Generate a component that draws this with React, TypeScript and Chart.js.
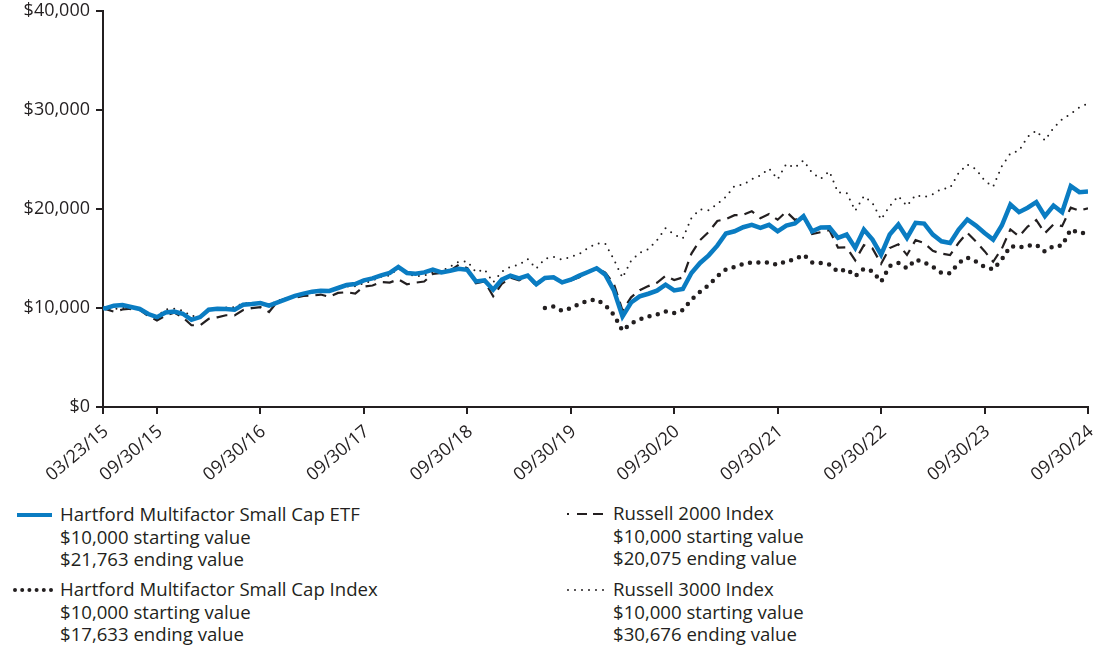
import React, { useEffect, useRef } from 'react';
import { Chart, registerables } from 'chart.js';

Chart.register(...registerables);

const FONT = "'Open Sans', 'Noto Sans', sans-serif";
const INK = '#231f20';
const BLUE = '#0a7cc2';

// x positions: months after 03/31/15 (start point 03/23/15 sits slightly before)
const START_X = -0.26;
const xTickValues = [START_X, 6, 18, 30, 42, 54, 66, 78, 90, 102, 114];
const xTickLabels = ['03/23/15', '09/30/15', '09/30/16', '09/30/17', '09/30/18', '09/30/19', '09/30/20', '09/30/21', '09/30/22', '09/30/23', '09/30/24'];
const yTickValues = [0, 10000, 20000, 30000, 40000];

// Hartford Multifactor Small Cap ETF (start, then month ends 03/15 .. 09/24)
const etfValues = [
  10000,
  9950, 10230, 10300, 10100, 9900, 9390, 9080, 9550, 9650, 9420, 8810, 9080,
  9820, 9920, 9900, 9820, 10330, 10400, 10500, 10230, 10560, 10900, 11220, 11450,
  11650, 11750, 11720, 12020, 12320, 12420, 12790, 12990, 13300, 13540, 14150, 13540,
  13470, 13600, 13870, 13600, 13770, 13970, 13850, 12690, 12790, 11850, 12860, 13270,
  12990, 13270, 12390, 13030, 13100, 12590, 12860, 13270, 13640, 14010, 13370, 11780,
  9150, 10560, 11170, 11440, 11750, 12350, 11780, 11920, 13540, 14550, 15320, 16300,
  17520, 17750, 18160, 18400, 18090, 18400, 17750, 18330, 18530, 19270, 17750, 18130,
  18160, 17080, 17420, 16070, 17920, 16910, 15390, 17420, 18430, 17080, 18600, 18530,
  17420, 16740, 16570, 17920, 18940, 18330, 17580, 16910, 18330, 20450, 19680, 20130,
  20690, 19270, 20350, 19680, 22310, 21700, 21763,
];

// Russell 2000 Index
const r2000Values = [
  10000,
  9890, 9630, 9850, 9930, 9810, 9190, 8740, 9230, 9530, 9060, 8260, 8250,
  8910, 9060, 9270, 9260, 9800, 9980, 10090, 9600, 10680, 10980, 11020, 11230,
  11240, 11360, 11130, 11520, 11600, 11450, 12160, 12270, 12620, 12570, 12900, 12400,
  12560, 12670, 13450, 13540, 13770, 14360, 14020, 12490, 12690, 11180, 12430, 13080,
  12800, 13240, 12210, 13070, 13150, 12510, 12770, 13100, 13640, 14030, 13580, 12440,
  9740, 11080, 11800, 12210, 12550, 13250, 12820, 13090, 15500, 16850, 17690, 18790,
  18980, 19380, 19410, 19780, 19070, 19490, 18920, 19730, 18900, 19320, 17470, 17660,
  17870, 16100, 16130, 14810, 16350, 16010, 14470, 16060, 16430, 15360, 16850, 16560,
  15770, 15490, 15350, 16590, 17600, 16720, 15740, 14670, 15990, 17940, 17240, 18220,
  18880, 17560, 18440, 18270, 20140, 19830, 20075,
];

// Russell 3000 Index
const r3000Values = [
  10000,
  9840, 9880, 10020, 9850, 10020, 9420, 9150, 9870, 9930, 9720, 9180, 9180,
  9820, 9880, 10060, 10080, 10480, 10510, 10530, 10300, 10760, 10970, 11180, 11590,
  11600, 11730, 11850, 11950, 12180, 12200, 12500, 12770, 13160, 13290, 13990, 13480,
  13210, 13260, 13630, 13730, 14180, 14680, 14710, 13620, 13890, 12600, 13680, 14160,
  14370, 14950, 13980, 14960, 15180, 14880, 15150, 15470, 16050, 16520, 16500, 14900,
  13060, 14780, 15580, 15940, 16850, 18060, 17410, 17030, 19100, 19960, 19880, 20500,
  21240, 22340, 22450, 23010, 23400, 24080, 23000, 24560, 24190, 24900, 23660, 23060,
  23800, 21660, 21640, 19820, 21300, 20600, 18940, 20300, 21300, 20310, 21400, 21210,
  21500, 22020, 22130, 23640, 24490, 24020, 22870, 22250, 24320, 25610, 25890, 27290,
  27900, 26920, 28190, 29060, 29610, 30260, 30676,
];

// Hartford Multifactor Small Cap Index (month ends 06/19 .. 09/24)
const HMSI_FIRST_MONTH = 51;
const hmsiValues = [
  10000, 10160, 9720, 9990, 10430, 10750, 10850, 10300, 9300,
  7700, 8450, 8850, 9150, 9350, 9650, 9500, 9800, 10850, 11650, 12300, 13200,
  13900, 14150, 14450, 14600, 14600, 14610, 14350, 14750, 14900, 15390, 14600, 14550,
  14400, 13650, 13950, 13200, 13970, 13700, 12650, 14250, 14550, 14000, 14900, 14600,
  14150, 13550, 13500, 14550, 15100, 14700, 14150, 13900, 14900, 16250, 16100, 16300,
  16400, 15700, 16250, 16300, 17950, 17550, 17633,
];

const fullPoints = (vals: number[]) => vals.map((y, i) => ({ x: i === 0 ? START_X : i - 1, y }));
const laterPoints = (vals: number[], first: number) => vals.map((y, i) => ({ x: first + i, y }));

const money = (v: number) => '$' + String(v).replace(/\B(?=(\d{3})+(?!\d))/g, ',');

const CANVAS_H = 500;
const PLOT_BOTTOM = 407;
const PLOT_TOP = 11;

function ChartCanvas() {
  const ref = useRef<HTMLCanvasElement | null>(null);
  useEffect(() => {
    if (!ref.current) return;
    const chart = new Chart(ref.current, {
      type: 'line',
      data: {
        datasets: [
          {
            label: 'Russell 3000 Index',
            data: fullPoints(r3000Values),
            borderColor: INK,
            borderWidth: 2,
            borderDash: [0, 7],
            borderCapStyle: 'round',
            pointRadius: 0,
            tension: 0,
            order: 4,
          },
          {
            label: 'Hartford Multifactor Small Cap Index',
            data: laterPoints(hmsiValues, HMSI_FIRST_MONTH),
            borderColor: INK,
            borderWidth: 4.5,
            borderDash: [0, 8.5],
            borderCapStyle: 'round',
            pointRadius: 0,
            tension: 0,
            order: 3,
          },
          {
            label: 'Russell 2000 Index',
            data: fullPoints(r2000Values),
            borderColor: INK,
            borderWidth: 2.2,
            borderDash: [11, 7],
            pointRadius: 0,
            tension: 0,
            order: 2,
          },
          {
            label: 'Hartford Multifactor Small Cap ETF',
            data: fullPoints(etfValues),
            borderColor: BLUE,
            borderWidth: 4.5,
            pointRadius: 0,
            tension: 0,
            order: 1,
          },
        ],
      },
      options: {
        responsive: true,
        maintainAspectRatio: false,
        animation: false,
        layout: { padding: { top: PLOT_TOP, right: 12, left: 0, bottom: 0 } },
        plugins: { legend: { display: false }, tooltip: { enabled: false } },
        scales: {
          x: {
            type: 'linear',
            min: START_X,
            max: 114,
            afterBuildTicks: (s: any) => {
              s.ticks = xTickValues.map((v) => ({ value: v }));
            },
            afterFit: (s: any) => {
              s.height = CANVAS_H - PLOT_BOTTOM;
              s.paddingLeft = 0;
              s.paddingRight = 0;
            },
            ticks: {
              autoSkip: false,
              maxRotation: 40,
              minRotation: 40,
              padding: 7,
              labelOffset: 3,
              color: INK,
              font: { family: FONT, size: 18 },
              callback: (_v: any, i: number) => xTickLabels[i],
            },
            grid: { display: true, drawOnChartArea: false, drawTicks: true, tickLength: 7, color: INK, lineWidth: 2 },
            border: { display: true, color: INK, width: 2 },
          },
          y: {
            min: 0,
            max: 40000,
            afterBuildTicks: (s: any) => {
              s.ticks = yTickValues.map((v) => ({ value: v }));
            },
            afterFit: (s: any) => {
              s.width = 103;
              s.paddingTop = 0;
              s.paddingBottom = 0;
            },
            ticks: {
              padding: 6,
              color: INK,
              font: { family: FONT, size: 18 },
              callback: (v: any) => money(Number(v)),
            },
            grid: { display: true, drawOnChartArea: false, drawTicks: true, tickLength: 7, color: INK, lineWidth: 2 },
            border: { display: true, color: INK, width: 2 },
          },
        },
      },
    } as any);
    return () => chart.destroy();
  }, []);
  return <canvas ref={ref} />;
}

type LegendItem = {
  name: string;
  start: string;
  end: string;
  left: number;
  top: number;
  iconLeft: number;
  icon: 'solid' | 'bigdot' | 'dash' | 'smalldot';
};

const legendItems: LegendItem[] = [
  { name: 'Hartford Multifactor Small Cap ETF', start: '$10,000 starting value', end: '$21,763 ending value', left: 60, top: 503, iconLeft: 15, icon: 'solid' },
  { name: 'Hartford Multifactor Small Cap Index', start: '$10,000 starting value', end: '$17,633 ending value', left: 60, top: 578, iconLeft: 11, icon: 'bigdot' },
  { name: 'Russell 2000 Index', start: '$10,000 starting value', end: '$20,075 ending value', left: 613, top: 502, iconLeft: 565, icon: 'dash' },
  { name: 'Russell 3000 Index', start: '$10,000 starting value', end: '$30,676 ending value', left: 613, top: 578, iconLeft: 565, icon: 'smalldot' },
];

function Icon({ kind }: { kind: LegendItem['icon'] }) {
  if (kind === 'solid') return <line x1={2} y1={12} x2={37} y2={12} stroke={BLUE} strokeWidth={4} />;
  if (kind === 'bigdot')
    return <line x1={4} y1={12} x2={40} y2={12} stroke={INK} strokeWidth={4} strokeDasharray="0 7.2" strokeLinecap="round" />;
  if (kind === 'dash')
    return <line x1={2} y1={12} x2={40} y2={12} stroke={INK} strokeWidth={2} strokeDasharray="2 8 10 6 10 6" />;
  return <line x1={3} y1={12} x2={40} y2={12} stroke={INK} strokeWidth={2} strokeDasharray="0 7" strokeLinecap="round" />;
}

export default function App() {
  return (
    <div style={{ position: 'absolute', left: 0, top: 0, width: 1100, height: 654, background: '#fff', fontFamily: FONT, color: INK }}>
      <div style={{ position: 'absolute', left: 0, top: 0, width: 1100, height: CANVAS_H }}>
        <ChartCanvas />
      </div>
      {legendItems.map((it) => (
        <React.Fragment key={it.name}>
          <svg style={{ position: 'absolute', left: it.iconLeft, top: it.top, width: 44, height: 24 }} width={44} height={24}>
            <Icon kind={it.icon} />
          </svg>
          <div style={{ position: 'absolute', left: it.left, top: it.top, fontSize: 18.6, lineHeight: '22.5px', whiteSpace: 'nowrap' }}>
            <div>{it.name}</div>
            <div>{it.start}</div>
            <div>{it.end}</div>
          </div>
        </React.Fragment>
      ))}
    </div>
  );
}
